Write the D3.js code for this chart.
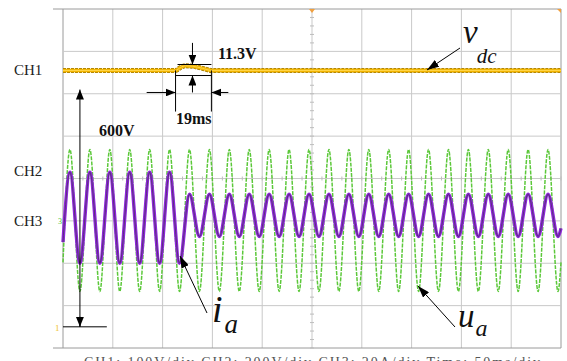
<!DOCTYPE html>
<html><head><meta charset="utf-8">
<script src="https://cdn.jsdelivr.net/npm/d3@7"></script>
<style>html,body{margin:0;padding:0;background:#fff;}svg{display:block;}
svg text{font-family:"Liberation Serif","DejaVu Serif","Times New Roman",serif;}</style>
</head><body>
<script>
// ---- data ----
// time in ms (50 ms/div), channel values in physical units
const vdcTime  = [0, 113, 118, 123, 130, 140, 149, 500];
const vdcValue = [605, 605, 612, 616, 615, 610, 605, 605];           // V, CH1 100 V/div

const waveTime = [0,7,17,27,37,47,57,67,77,87,97,107,117,127,137,147,157,167,177,187,197,207,217,227,237,247,257,267,277,287,297,307,317,327,337,347,357,367,377,387,397,407,417,427,437,447,457,467,477,487,497,500];
const uaValue  = [-196,337,-333,337,-333,337,-333,337,-333,337,-333,337,-333,337,-333,337,-333,337,-333,337,-333,337,-333,337,-333,337,-333,337,-333,337,-333,337,-333,337,-333,337,-333,337,-333,337,-333,337,-333,337,-333,337,-333,337,-333,337,-333,-196]; // V, 200 V/div
const iaValue  = [-12,21,-22,21,-22,21,-22,21,-22,21,-22,21,-22,10.6,-9.4,10.6,-9.4,10.6,-9.4,10.6,-9.4,10.6,-9.4,10.6,-9.4,10.6,-9.4,10.6,-9.4,10.6,-9.4,10.6,-9.4,10.6,-9.4,10.6,-9.4,10.6,-9.4,10.6,-9.4,10.6,-9.4,10.6,-9.4,10.6,-9.4,10.6,-9.4,10.6,-9.4,-5.5]; // A, 20 A/div

const channelLabels = ["CH1","CH2","CH3"];
const channelLabelDiv = [2.55, 0.17, -1];
const xDivs = d3.range(0, 11);
const yDivs = d3.range(-4, 5);
const footer = "CH1: 100V/div    CH2: 200V/div    CH3: 20A/div    Time: 50ms/div";

// ---- scales ----
const W = 567, H = 361;
const FONT = "'Liberation Serif','DejaVu Serif','Times New Roman',serif";
const x = d3.scaleLinear().domain([0, 500]).range([63, 561]);
const yDiv = d3.scaleLinear().domain([-4, 4]).range([348, 9]);
const yCh1 = v => yDiv(-3.5 + v / 100);
const yUa  = v => yDiv(-1 + v / 200);
const yIa  = v => yDiv(-0.9 + v / 20);

const svg = d3.select("body").append("svg").attr("width", W).attr("height", H)
  .attr("font-family", FONT);

const defs = svg.append("defs");
defs.append("marker").attr("id","ah").attr("viewBox","0 0 12 8")
  .attr("markerWidth",12).attr("markerHeight",8).attr("refX",12).attr("refY",4)
  .attr("orient","auto").attr("markerUnits","userSpaceOnUse")
  .append("path").attr("d","M0,0 L12,4 L0,8 Z").attr("fill","#000");
defs.append("marker").attr("id","ahs").attr("viewBox","0 0 10 8")
  .attr("markerWidth",10).attr("markerHeight",8).attr("refX",10).attr("refY",4)
  .attr("orient","auto").attr("markerUnits","userSpaceOnUse")
  .append("path").attr("d","M0,0 L10,4 L0,8 Z").attr("fill","#000");

// ---- grid ----
const g = svg.append("g");
g.selectAll(".vl").data(xDivs).enter().append("line")
  .attr("x1", d => x(d*50)).attr("x2", d => x(d*50))
  .attr("y1", yDiv(4)).attr("y2", yDiv(-4))
  .attr("stroke", d => (d===0||d===10) ? "#9a9a9a" : "#c9c9c9").attr("stroke-width", 1);
g.selectAll(".hl").data(yDivs).enter().append("line")
  .attr("x1", d => (d===4||d===-4) ? 53 : x(0)).attr("x2", x(500))
  .attr("y1", d => yDiv(d)).attr("y2", d => yDiv(d))
  .attr("stroke", d => (d===4||d===-4) ? "#9a9a9a" : "#c9c9c9").attr("stroke-width", 1);
// center minor ticks
const minorX = d3.range(0, 501, 10);
g.selectAll(".mtx").data(minorX).enter().append("line")
  .attr("x1", d => x(d)).attr("x2", d => x(d))
  .attr("y1", yDiv(0)-2).attr("y2", yDiv(0)+2).attr("stroke","#bdbdbd");
const minorY = d3.range(-4, 4.01, 0.2);
g.selectAll(".mty").data(minorY).enter().append("line")
  .attr("x1", x(250)-2).attr("x2", x(250)+2)
  .attr("y1", d => yDiv(d)).attr("y2", d => yDiv(d)).attr("stroke","#bdbdbd");

// trigger markers
svg.append("path").attr("d", `M${x(250)-3},${yDiv(4)} L${x(250)+3},${yDiv(4)} L${x(250)},${yDiv(4)+4} Z`).attr("fill","#f0a040");
svg.append("path").attr("d", `M${x(500)-4},${yDiv(4)} L${x(500)},${yDiv(4)} L${x(500)},${yDiv(4)+4} Z`).attr("fill","#f0a040");

// ---- traces ----
const line = (yf, tArr, vArr) => d3.line().x((d,i)=>x(tArr[i])).y((d,i)=>yf(vArr[i])).curve(d3.curveMonotoneX)(vArr);

// u_a green
svg.append("path").attr("d", line(yUa, waveTime, uaValue)).attr("fill","none")
  .attr("stroke","#5cc83a").attr("stroke-width",1.5).attr("stroke-dasharray","4 1.2");
// i_a purple
svg.append("path").attr("d", line(yIa, waveTime, iaValue)).attr("fill","none")
  .attr("stroke","#8f24dc").attr("stroke-width",3.4).attr("stroke-linejoin","round");
svg.append("path").attr("d", line(yIa, waveTime, iaValue)).attr("fill","none")
  .attr("stroke","#4a3a5e").attr("stroke-width",0.8);
// vdc yellow
svg.append("path").attr("d", line(yCh1, vdcTime, vdcValue)).attr("fill","none")
  .attr("stroke","#a27a00").attr("stroke-width",5).attr("stroke-dasharray","3 1");
svg.append("path").attr("d", line(yCh1, vdcTime, vdcValue)).attr("fill","none")
  .attr("stroke","#f2b400").attr("stroke-width",3.4);
svg.append("path").attr("d", line(yCh1, vdcTime, vdcValue)).attr("fill","none")
  .attr("stroke","#ffd64a").attr("stroke-width",1);

// ---- channel labels & markers ----
svg.selectAll(".chl").data(channelLabels).enter().append("text")
  .attr("x", 14).attr("y", (d,i)=> yDiv(channelLabelDiv[i]) + 5)
  .attr("font-family", FONT).attr("font-size", 15).attr("fill","#222").text(d=>d);
svg.append("text").attr("x",55).attr("y",yCh1(0)+4).attr("font-size",9).attr("fill","#f0c020").text("1");
svg.append("text").attr("x",58).attr("y",yUa(0)+3).attr("font-size",8).attr("fill","#4cbf30").text("3");

// ---- annotations ----
const ann = svg.append("g").attr("stroke","#000").attr("stroke-width",1).attr("fill","none");
// 600V double arrow
ann.append("line").attr("x1",x(17)).attr("x2",x(17)).attr("y1",yCh1(0)-10).attr("y2",yCh1(0)).attr("marker-end","url(#ahs)");
ann.append("line").attr("x1",x(17)).attr("x2",x(17)).attr("y1",yCh1(0)).attr("y2",yCh1(560)).attr("marker-end","url(#ahs)");
ann.append("line").attr("x1",x(0)).attr("x2",x(44)).attr("y1",yCh1(0)).attr("y2",yCh1(0));
// 11.3V
ann.append("line").attr("x1",x(115)).attr("x2",x(149)).attr("y1",yCh1(619)).attr("y2",yCh1(619));
ann.append("line").attr("x1",x(113)).attr("x2",x(149)).attr("y1",yCh1(593)).attr("y2",yCh1(593));
ann.append("line").attr("x1",x(130)).attr("x2",x(130)).attr("y1",yCh1(670)).attr("y2",yCh1(619)).attr("marker-end","url(#ahs)");
ann.append("line").attr("x1",x(130)).attr("x2",x(130)).attr("y1",yCh1(553)).attr("y2",yCh1(593)).attr("marker-end","url(#ahs)");
// 19ms
ann.append("line").attr("x1",x(113)).attr("x2",x(113)).attr("y1",yCh1(605)).attr("y2",yCh1(508));
ann.append("line").attr("x1",x(149)).attr("x2",x(149)).attr("y1",yCh1(605)).attr("y2",yCh1(508));
ann.append("line").attr("x1",x(84)).attr("x2",x(113)).attr("y1",yCh1(553)).attr("y2",yCh1(553)).attr("marker-end","url(#ahs)");
ann.append("line").attr("x1",x(166)).attr("x2",x(149)).attr("y1",yCh1(553)).attr("y2",yCh1(553)).attr("marker-end","url(#ahs)");
// label arrows
ann.append("line").attr("x1",460).attr("y1",48).attr("x2",427).attr("y2",70).attr("marker-end","url(#ah)");
ann.append("line").attr("x1",207).attr("y1",313).attr("x2",180).attr("y2",256).attr("marker-end","url(#ah)");
ann.append("line").attr("x1",455).attr("y1",327).attr("x2",418).attr("y2",286).attr("marker-end","url(#ah)");

const bold = {"font-weight":"bold","font-size":16,"fill":"#111","font-family":FONT};
function txt(s, px, py, attrs){ const t = svg.append("text").attr("x",px).attr("y",py).text(s); for(const k in attrs) t.attr(k, attrs[k]); return t; }
txt("11.3V", 218, 59, bold);
txt("600V", 99, 136, bold);
txt("19ms", 176, 124, bold);

const vdc = svg.append("text").attr("x",463).attr("y",43).attr("font-family",FONT).attr("font-style","italic").attr("font-size",33).attr("fill","#111");
vdc.append("tspan").text("v");
vdc.append("tspan").attr("font-size",21).attr("dy",20).attr("dx",-1).text("dc");
const ia = svg.append("text").attr("x",212).attr("y",322).attr("font-family",FONT).attr("font-style","italic").attr("font-size",38).attr("fill","#111");
ia.append("tspan").text("i");
ia.append("tspan").attr("font-size",27).attr("dy",11).attr("dx",2).text("a");
const ua = svg.append("text").attr("x",458).attr("y",327).attr("font-family",FONT).attr("font-style","italic").attr("font-size",33).attr("fill","#111");
ua.append("tspan").text("u");
ua.append("tspan").attr("font-size",24).attr("dy",9).attr("dx",1).text("a");

// footer (cut off at bottom edge like reference)
svg.append("text").attr("x",84).attr("y",367).attr("font-family",FONT).attr("font-size",14).attr("fill","#555")
  .attr("textLength",456).attr("lengthAdjust","spacing").text(footer);
</script>
</body></html>
